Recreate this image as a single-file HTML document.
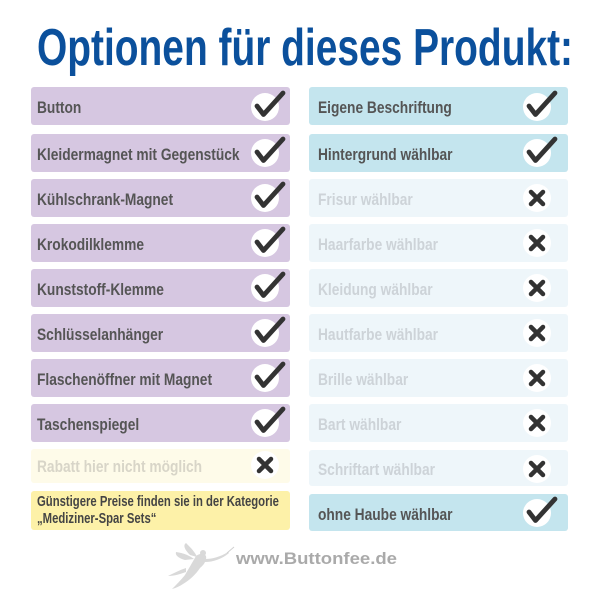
<!DOCTYPE html>
<html><head><meta charset="utf-8"><style>
html,body{margin:0;padding:0;background:#fff;}
svg{display:block;}
</style></head><body>
<svg width="600" height="600" viewBox="0 0 600 600" xmlns="http://www.w3.org/2000/svg" font-family="'Liberation Sans', sans-serif">
<rect width="600" height="600" fill="#fff"/>
<text x="37" y="65" font-size="52" font-weight="bold" fill="#0b509c" textLength="536" lengthAdjust="spacingAndGlyphs">Optionen für dieses Produkt:</text>

<!-- Left column -->
<g font-size="17" font-weight="bold">
<rect x="31" y="87" width="259" height="38" rx="3" fill="#d6c7e1"/>
<text transform="translate(37,113) scale(0.81,1)" fill="#555">Button</text>
<rect x="31" y="134" width="259" height="38" rx="3" fill="#d6c7e1"/>
<text transform="translate(37,160) scale(0.81,1)" fill="#555">Kleidermagnet mit Gegenstück</text>
<rect x="31" y="179" width="259" height="38" rx="3" fill="#d6c7e1"/>
<text transform="translate(37,205) scale(0.81,1)" fill="#555">Kühlschrank-Magnet</text>
<rect x="31" y="224" width="259" height="38" rx="3" fill="#d6c7e1"/>
<text transform="translate(37,250) scale(0.81,1)" fill="#555">Krokodilklemme</text>
<rect x="31" y="269" width="259" height="38" rx="3" fill="#d6c7e1"/>
<text transform="translate(37,295) scale(0.81,1)" fill="#555">Kunststoff-Klemme</text>
<rect x="31" y="314" width="259" height="38" rx="3" fill="#d6c7e1"/>
<text transform="translate(37,340) scale(0.81,1)" fill="#555">Schlüsselanhänger</text>
<rect x="31" y="359" width="259" height="38" rx="3" fill="#d6c7e1"/>
<text transform="translate(37,385) scale(0.81,1)" fill="#555">Flaschenöffner mit Magnet</text>
<rect x="31" y="404" width="259" height="38" rx="3" fill="#d6c7e1"/>
<text transform="translate(37,430) scale(0.81,1)" fill="#555">Taschenspiegel</text>
<rect x="31" y="449" width="259" height="34" rx="3" fill="#fefbe9"/>
<text transform="translate(37,472) scale(0.81,1)" fill="#d8d5c8">Rabatt hier nicht möglich</text>
<rect x="31" y="491" width="259" height="39" rx="3" fill="#fdf1a8"/>
<text transform="translate(37,506) scale(0.78,1)" fill="#444" font-size="14.5">Günstigere Preise finden sie in der Kategorie</text>
<text transform="translate(37,523) scale(0.78,1)" fill="#444" font-size="14.5">„Mediziner-Spar Sets“</text>
</g>

<!-- Right column -->
<g font-size="17" font-weight="bold">
<rect x="309" y="87" width="259" height="38" rx="3" fill="#c4e5ee"/>
<text transform="translate(318,113) scale(0.81,1)" fill="#555">Eigene Beschriftung</text>
<rect x="309" y="134" width="259" height="38" rx="3" fill="#c4e5ee"/>
<text transform="translate(318,160) scale(0.81,1)" fill="#555">Hintergrund wählbar</text>
<rect x="309" y="179" width="259" height="38" rx="3" fill="#eef6fa"/>
<text transform="translate(318,205) scale(0.81,1)" fill="#cdd3d8">Frisur wählbar</text>
<rect x="309" y="224" width="259" height="38" rx="3" fill="#eef6fa"/>
<text transform="translate(318,250) scale(0.81,1)" fill="#cdd3d8">Haarfarbe wählbar</text>
<rect x="309" y="269" width="259" height="38" rx="3" fill="#eef6fa"/>
<text transform="translate(318,295) scale(0.81,1)" fill="#cdd3d8">Kleidung wählbar</text>
<rect x="309" y="314" width="259" height="38" rx="3" fill="#eef6fa"/>
<text transform="translate(318,340) scale(0.81,1)" fill="#cdd3d8">Hautfarbe wählbar</text>
<rect x="309" y="359" width="259" height="38" rx="3" fill="#eef6fa"/>
<text transform="translate(318,385) scale(0.81,1)" fill="#cdd3d8">Brille wählbar</text>
<rect x="309" y="404" width="259" height="38" rx="3" fill="#eef6fa"/>
<text transform="translate(318,430) scale(0.81,1)" fill="#cdd3d8">Bart wählbar</text>
<rect x="309" y="450" width="259" height="36" rx="3" fill="#eef6fa"/>
<text transform="translate(318,475) scale(0.81,1)" fill="#cdd3d8">Schriftart wählbar</text>
<rect x="309" y="494" width="259" height="37" rx="3" fill="#c4e5ee"/>
<text transform="translate(318,520) scale(0.81,1)" fill="#555">ohne Haube wählbar</text>
</g>

<defs>
<g id="chk">
<circle cx="0" cy="0" r="14" fill="#fff"/>
<polyline points="-8,-1 -1.5,7.5 18,-14" fill="none" stroke="#333" stroke-width="4.8" stroke-linecap="round" stroke-linejoin="round"/>
</g>
<g id="xx">
<circle cx="0" cy="0" r="14" fill="#fff"/>
<path d="M-6,-6 L6,6 M6,-6 L-6,6" fill="none" stroke="#333" stroke-width="4.5" stroke-linecap="round"/>
</g>
</defs>

<!-- Left icons -->
<use href="#chk" x="265" y="107"/>
<use href="#chk" x="265" y="153"/>
<use href="#chk" x="265" y="198"/>
<use href="#chk" x="265" y="243"/>
<use href="#chk" x="265" y="288"/>
<use href="#chk" x="265" y="333"/>
<use href="#chk" x="265" y="378"/>
<use href="#chk" x="265" y="423"/>
<use href="#xx" x="265" y="465"/>

<!-- Right icons -->
<use href="#chk" x="537" y="107"/>
<use href="#chk" x="537" y="153"/>
<use href="#xx" x="537" y="198"/>
<use href="#xx" x="537" y="243"/>
<use href="#xx" x="537" y="288"/>
<use href="#xx" x="537" y="333"/>
<use href="#xx" x="537" y="378"/>
<use href="#xx" x="537" y="423"/>
<use href="#xx" x="537" y="469"/>
<use href="#chk" x="537" y="513"/>

<!-- Footer fairy -->
<g fill="#d9d9d9">
<path d="M190,555 C184,549 183,545 186,543 C191,548 195,552 197,557 Z"/>
<path d="M185,560 C178,558 175,555 176,552 C184,553 190,556 194,559 Z"/>
<path d="M196,556 C200,553 204,553 206,556 C207,560 204,565 200,568 C196,574 190,580 183,584 C180,586 176,588 172,589 C176,585 181,580 185,575 C188,570 192,563 196,556 Z"/>
<circle cx="203" cy="553" r="3"/>
<path d="M205,559 C212,559 220,557 228,552 L229,553 C222,559 213,562 205,562 Z"/>
<path d="M186,572 C180,574 175,576 168,576 C174,573 180,570 186,568 Z"/>
</g>
<line x1="227" y1="553" x2="234" y2="547" stroke="#d0d0d0" stroke-width="1"/>
<text x="236" y="564" font-size="17" font-weight="bold" fill="#aaa" textLength="161" lengthAdjust="spacingAndGlyphs">www.Buttonfee.de</text>
</svg>
</body></html>
